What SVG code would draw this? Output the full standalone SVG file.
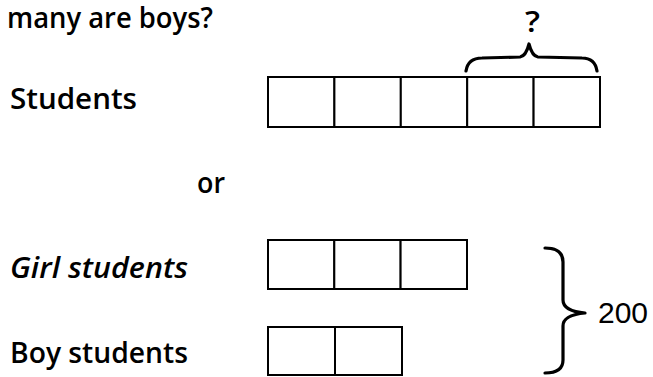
<svg xmlns="http://www.w3.org/2000/svg" width="653" height="377" viewBox="0 0 653 377">
<style>
.lbl{font-family:"Open Sans","Liberation Sans",sans-serif;font-size:28px;fill:#000;font-weight:600}
.num{font-family:"Liberation Sans",Arial,sans-serif;font-size:30px;fill:#000}
.cell{fill:#fff;stroke:#000;stroke-width:2}
.brace{fill:none;stroke:#000;stroke-width:3.2;stroke-linecap:round;stroke-linejoin:round}
</style>
<rect width="653" height="377" fill="#fff"/>
<g id="question">
<text class="lbl" x="7" y="28" textLength="206" lengthAdjust="spacingAndGlyphs">many are boys?</text>
</g>
<g id="students-label">
<text class="lbl" x="10" y="109" textLength="127" lengthAdjust="spacingAndGlyphs">Students</text>
</g>
<g id="students-bar">
<rect class="cell" x="268" y="77" width="66.4" height="50"/>
<rect class="cell" x="334.4" y="77" width="66.4" height="50"/>
<rect class="cell" x="400.8" y="77" width="66.4" height="50"/>
<rect class="cell" x="467.2" y="77" width="66.4" height="50"/>
<rect class="cell" x="533.6" y="77" width="66.4" height="50"/>
</g>
<g id="top-brace">
<path class="brace" d="M466,71 Q468,58 482,58 L520,57 Q526,56 529,44 Q532,56 538,57 L582,58 Q595,58 597,71"/>
<text class="lbl" x="525" y="32" font-size="30" font-weight="400" textLength="15" lengthAdjust="spacingAndGlyphs">?</text>
</g>
<g id="or-label">
<text class="lbl" x="197" y="193" textLength="28" lengthAdjust="spacingAndGlyphs">or</text>
</g>
<g id="girl-label">
<text class="lbl" x="10" y="278" textLength="178" lengthAdjust="spacingAndGlyphs" font-style="italic">Girl students</text>
</g>
<g id="girl-bar">
<rect class="cell" x="268" y="240" width="66.3" height="49"/>
<rect class="cell" x="334.3" y="240" width="66.3" height="49"/>
<rect class="cell" x="400.6" y="240" width="66.4" height="49"/>
</g>
<g id="boy-label">
<text class="lbl" x="10" y="363" textLength="178" lengthAdjust="spacingAndGlyphs">Boy students</text>
</g>
<g id="boy-bar">
<rect class="cell" x="268" y="327" width="67" height="48"/>
<rect class="cell" x="335" y="327" width="67" height="48"/>
</g>
<g id="total-brace">
<path class="brace" d="M545,248 Q563,248 563,262 L563,300 Q563,311 585,313 Q563,315 563,326 L563,360 Q563,373 545,373"/>
<text class="num" x="598" y="323">200</text>
</g>
</svg>
